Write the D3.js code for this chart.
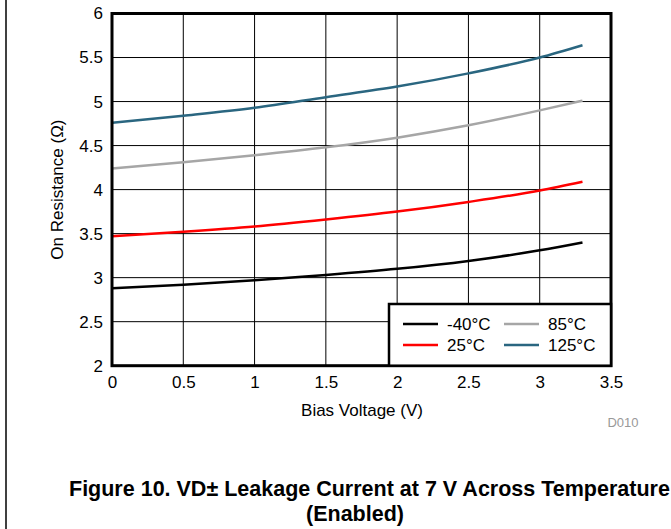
<!DOCTYPE html>
<html><head><meta charset="utf-8">
<script src="https://cdn.jsdelivr.net/npm/d3@7"></script>
<style>body{margin:0;background:#fff}svg{display:block}text{font-family:"Liberation Sans",Arial,sans-serif}</style>
</head><body>
<svg id="c" width="671" height="529"></svg>
<script>
const xVals = [0, 0.5, 1, 1.5, 2, 2.5, 3, 3.3];
const seriesNames = ["-40°C", "25°C", "85°C", "125°C"];
const seriesColors = ["#000000", "#ff0000", "#a6a6a6", "#2a6680"];
const sM40 = [2.88, 2.92, 2.97, 3.03, 3.10, 3.19, 3.31, 3.40];
const s25 = [3.47, 3.52, 3.58, 3.66, 3.75, 3.86, 3.99, 4.09];
const s85 = [4.24, 4.31, 4.39, 4.48, 4.59, 4.73, 4.90, 5.01];
const s125 = [4.76, 4.84, 4.93, 5.05, 5.17, 5.32, 5.50, 5.64];
const xTicks = [0, 0.5, 1, 1.5, 2, 2.5, 3, 3.5];
const xTickLabels = ["0", "0.5", "1", "1.5", "2", "2.5", "3", "3.5"];
const yTicks = [2, 2.5, 3, 3.5, 4, 4.5, 5, 5.5, 6];
const yTickLabels = ["2", "2.5", "3", "3.5", "4", "4.5", "5", "5.5", "6"];
const allSeries = [sM40, s25, s85, s125];

const svg = d3.select("#c");
const L = 112, R = 611, T = 13.5, B = 365.7;
const x = d3.scaleLinear().domain([0, 3.5]).range([L, R]);
const y = d3.scaleLinear().domain([2, 6]).range([B, T]);
const FONT = "Liberation Sans, Arial, sans-serif";

// outer left border
svg.append("line").attr("x1", 6).attr("x2", 6).attr("y1", 0).attr("y2", 529).attr("stroke", "#000").attr("stroke-width", 1.5);

// grid
svg.append("g").selectAll("line").data(xTicks).join("line")
  .attr("x1", d => x(d)).attr("x2", d => x(d)).attr("y1", T).attr("y2", B)
  .attr("stroke", "#000").attr("stroke-width", 1);
svg.append("g").selectAll("line").data(yTicks).join("line")
  .attr("x1", L).attr("x2", R).attr("y1", d => y(d)).attr("y2", d => y(d))
  .attr("stroke", "#000").attr("stroke-width", 1);

// lines
const line = d3.line().x((d, i) => x(xVals[i])).y(d => y(d)).curve(d3.curveMonotoneX);
allSeries.forEach((s, i) => {
  svg.append("path").datum(s).attr("d", line).attr("fill", "none")
    .attr("stroke", seriesColors[i]).attr("stroke-width", 2.5);
});

// frame
svg.append("rect").attr("x", L).attr("y", T).attr("width", R - L).attr("height", B - T)
  .attr("fill", "none").attr("stroke", "#000").attr("stroke-width", 3);

// axes labels
const xAxis = d3.axisBottom(x).tickValues(xTicks).tickFormat((d, i) => xTickLabels[i]).tickSize(0).tickPadding(10);
const gx = svg.append("g").attr("transform", `translate(0,${B})`).call(xAxis);
gx.select(".domain").remove();
gx.attr("font-size", null).attr("font-family", null);
gx.selectAll("text").attr("font-size", 17).attr("fill", "#000").style("font-family", FONT);
const yAxis = d3.axisLeft(y).tickValues(yTicks).tickFormat((d, i) => yTickLabels[i]).tickSize(0).tickPadding(9);
const gy = svg.append("g").attr("transform", `translate(${L},0)`).call(yAxis);
gy.select(".domain").remove();
gy.attr("font-size", null).attr("font-family", null);
gy.selectAll("text").attr("font-size", 17).attr("fill", "#000").style("font-family", FONT);

svg.append("text").attr("x", 362).attr("y", 416).attr("text-anchor", "middle")
  .attr("font-size", 17).text("Bias Voltage (V)");
svg.append("text").attr("transform", `translate(63,${(T + B) / 2}) rotate(-90)`).attr("text-anchor", "middle")
  .attr("font-size", 17).text("On Resistance (Ω)");
svg.append("text").attr("x", 623).attr("y", 427).attr("text-anchor", "middle")
  .attr("font-size", 13).attr("fill", "#999").text("D010");

// legend
const lx = 389, ly = 304, lw = R - lx, lh = B - ly;
svg.append("rect").attr("x", lx).attr("y", ly).attr("width", lw).attr("height", lh)
  .attr("fill", "#fff").attr("stroke", "#000").attr("stroke-width", 2.5);
const legPos = [[403, 324], [403, 345], [504, 324], [504, 345]];
seriesNames.forEach((n, i) => {
  const [px, py] = legPos[i];
  svg.append("line").attr("x1", px).attr("x2", px + 35).attr("y1", py).attr("y2", py)
    .attr("stroke", seriesColors[i]).attr("stroke-width", 2.5);
  svg.append("text").attr("x", px + 44).attr("y", py + 6).attr("font-size", 17).text(n);
});

// caption
svg.append("text").attr("x", 69).attr("y", 496).attr("text-anchor", "start")
  .attr("font-size", 21.5).attr("font-weight", "bold").text("Figure 10. VD± Leakage Current at 7 V Across Temperature");
svg.append("text").attr("x", 355).attr("y", 521).attr("text-anchor", "middle")
  .attr("font-size", 21.5).attr("font-weight", "bold").text("(Enabled)");
</script>
</body></html>
